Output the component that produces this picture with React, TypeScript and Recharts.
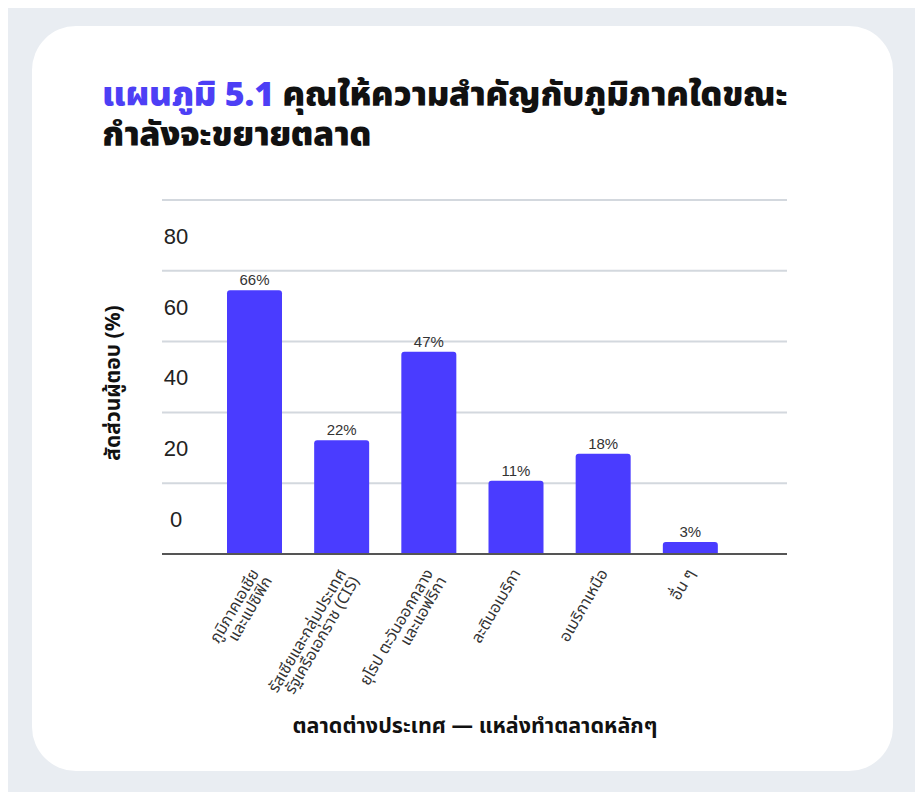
import React from 'react';
import { BarChart, Bar, XAxis, YAxis, CartesianGrid, LabelList } from 'recharts';

const categories = [
  'ภูมิภาคเอเชีย\nและแปซิฟิก',
  'รัสเซียและกลุ่มประเทศ\nรัฐเครือเอกราช (CIS)',
  'ยุโรป ตะวันออกกลาง\nและแอฟริกา',
  'ละตินอเมริกา',
  'อเมริกาเหนือ',
  'อื่น ๆ',
];
// bar heights as drawn on the chart's axis
const barHeights = [74.5, 32.1, 57.1, 20.7, 28.3, 3.4];
// value labels printed above the bars
const barLabels = ['66%', '22%', '47%', '11%', '18%', '3%'];
const yTicks = [0, 20, 40, 60, 80, 100];
const yTickLabels = ['0', '20', '40', '60', '80', ''];

const titleAccent = 'แผนภูมิ 5.1';
const titleRest = ' คุณให้ความสำคัญกับภูมิภาคใดขณะ';
const titleLine2 = 'กำลังจะขยายตลาด';
const yAxisTitle = 'สัดส่วนผู้ตอบ (%)';
const xAxisTitle = 'ตลาดต่างประเทศ — แหล่งทำตลาดหลักๆ';

const data = categories.map((c, i) => ({ name: c, value: barHeights[i], label: barLabels[i] }));

const THAI = '"Noto Sans Thai", "Noto Sans", "Liberation Sans", sans-serif';
const ARIAL = '"Liberation Sans", Arial, sans-serif';
const BAR = '#4a3cff';

const YTick = (props: any) => {
  const { x, y, index } = props;
  return (
    <text x={x + 14} y={y - 35} dy="0.36em" textAnchor="middle" fontFamily={ARIAL} fontSize={22} fill="#222">
      {yTickLabels[index]}
    </text>
  );
};

const XTick = (props: any) => {
  const { x, y, payload } = props;
  const lines = String(payload.value).split('\n');
  return (
    <g transform={`translate(${x + 5},${y + 19}) rotate(-60)`}>
      <text textAnchor="end" fontFamily={THAI} fontSize={16} fill="#333">
        {lines.map((l, i) => (
          <tspan key={i} x={0} dy={i === 0 ? 0 : 15}>{l}</tspan>
        ))}
      </text>
    </g>
  );
};

export default function App() {
  return (
    <div style={{ position: 'relative', width: 923, height: 800, margin: -8, background: '#e9edf2', overflow: 'hidden' }}>
      <div style={{ position: 'absolute', left: 32, top: 26, width: 861, height: 745, background: '#fff', borderRadius: 44 }} />
      <div style={{ position: 'absolute', left: 102, top: 76, fontFamily: THAI, fontWeight: 900, fontSize: 34, lineHeight: '40px', color: '#111', whiteSpace: 'nowrap', letterSpacing: -0.2 }}>
        <div><span style={{ color: '#4d3ff5' }}>{titleAccent}</span>{titleRest}</div>
        <div>{titleLine2}</div>
      </div>
      <div style={{ position: 'absolute', left: 113, top: 383, transform: 'translate(-50%,-50%) rotate(-90deg)', fontFamily: THAI, fontWeight: 700, fontSize: 21, color: '#111', whiteSpace: 'nowrap' }}>
        {yAxisTitle}
      </div>
      <div style={{ position: 'absolute', left: 475, top: 726, transform: 'translate(-50%,-50%)', fontFamily: THAI, fontWeight: 700, fontSize: 21.5, color: '#111', whiteSpace: 'nowrap' }}>
        {xAxisTitle}
      </div>
      <div style={{ position: 'absolute', left: 0, top: 0 }}>
        <BarChart width={923} height={800} data={data} margin={{ top: 200, right: 136, bottom: 146, left: 102 }}>
          <CartesianGrid vertical={false} stroke="#d3d8de" strokeWidth={2} />
          <XAxis
            dataKey="name"
            interval={0}
            tick={<XTick />}
            tickLine={false}
            tickSize={0}
            tickMargin={0}
            axisLine={{ stroke: '#555', strokeWidth: 2 }}
            padding={{ left: 49, right: 53 }}
            height={100}
          />
          <YAxis
            domain={[0, 100]}
            ticks={yTicks}
            tick={<YTick />}
            tickLine={false}
            axisLine={false}
            tickSize={0}
            tickMargin={0}
            width={60}
            interval={0}
          />
          <Bar dataKey="value" fill={BAR} barSize={55} radius={[3, 3, 0, 0]} isAnimationActive={false}>
            <LabelList dataKey="label" position="top" offset={5} fontFamily={ARIAL} fontSize={15} fill="#333" />
          </Bar>
        </BarChart>
      </div>
    </div>
  );
}
